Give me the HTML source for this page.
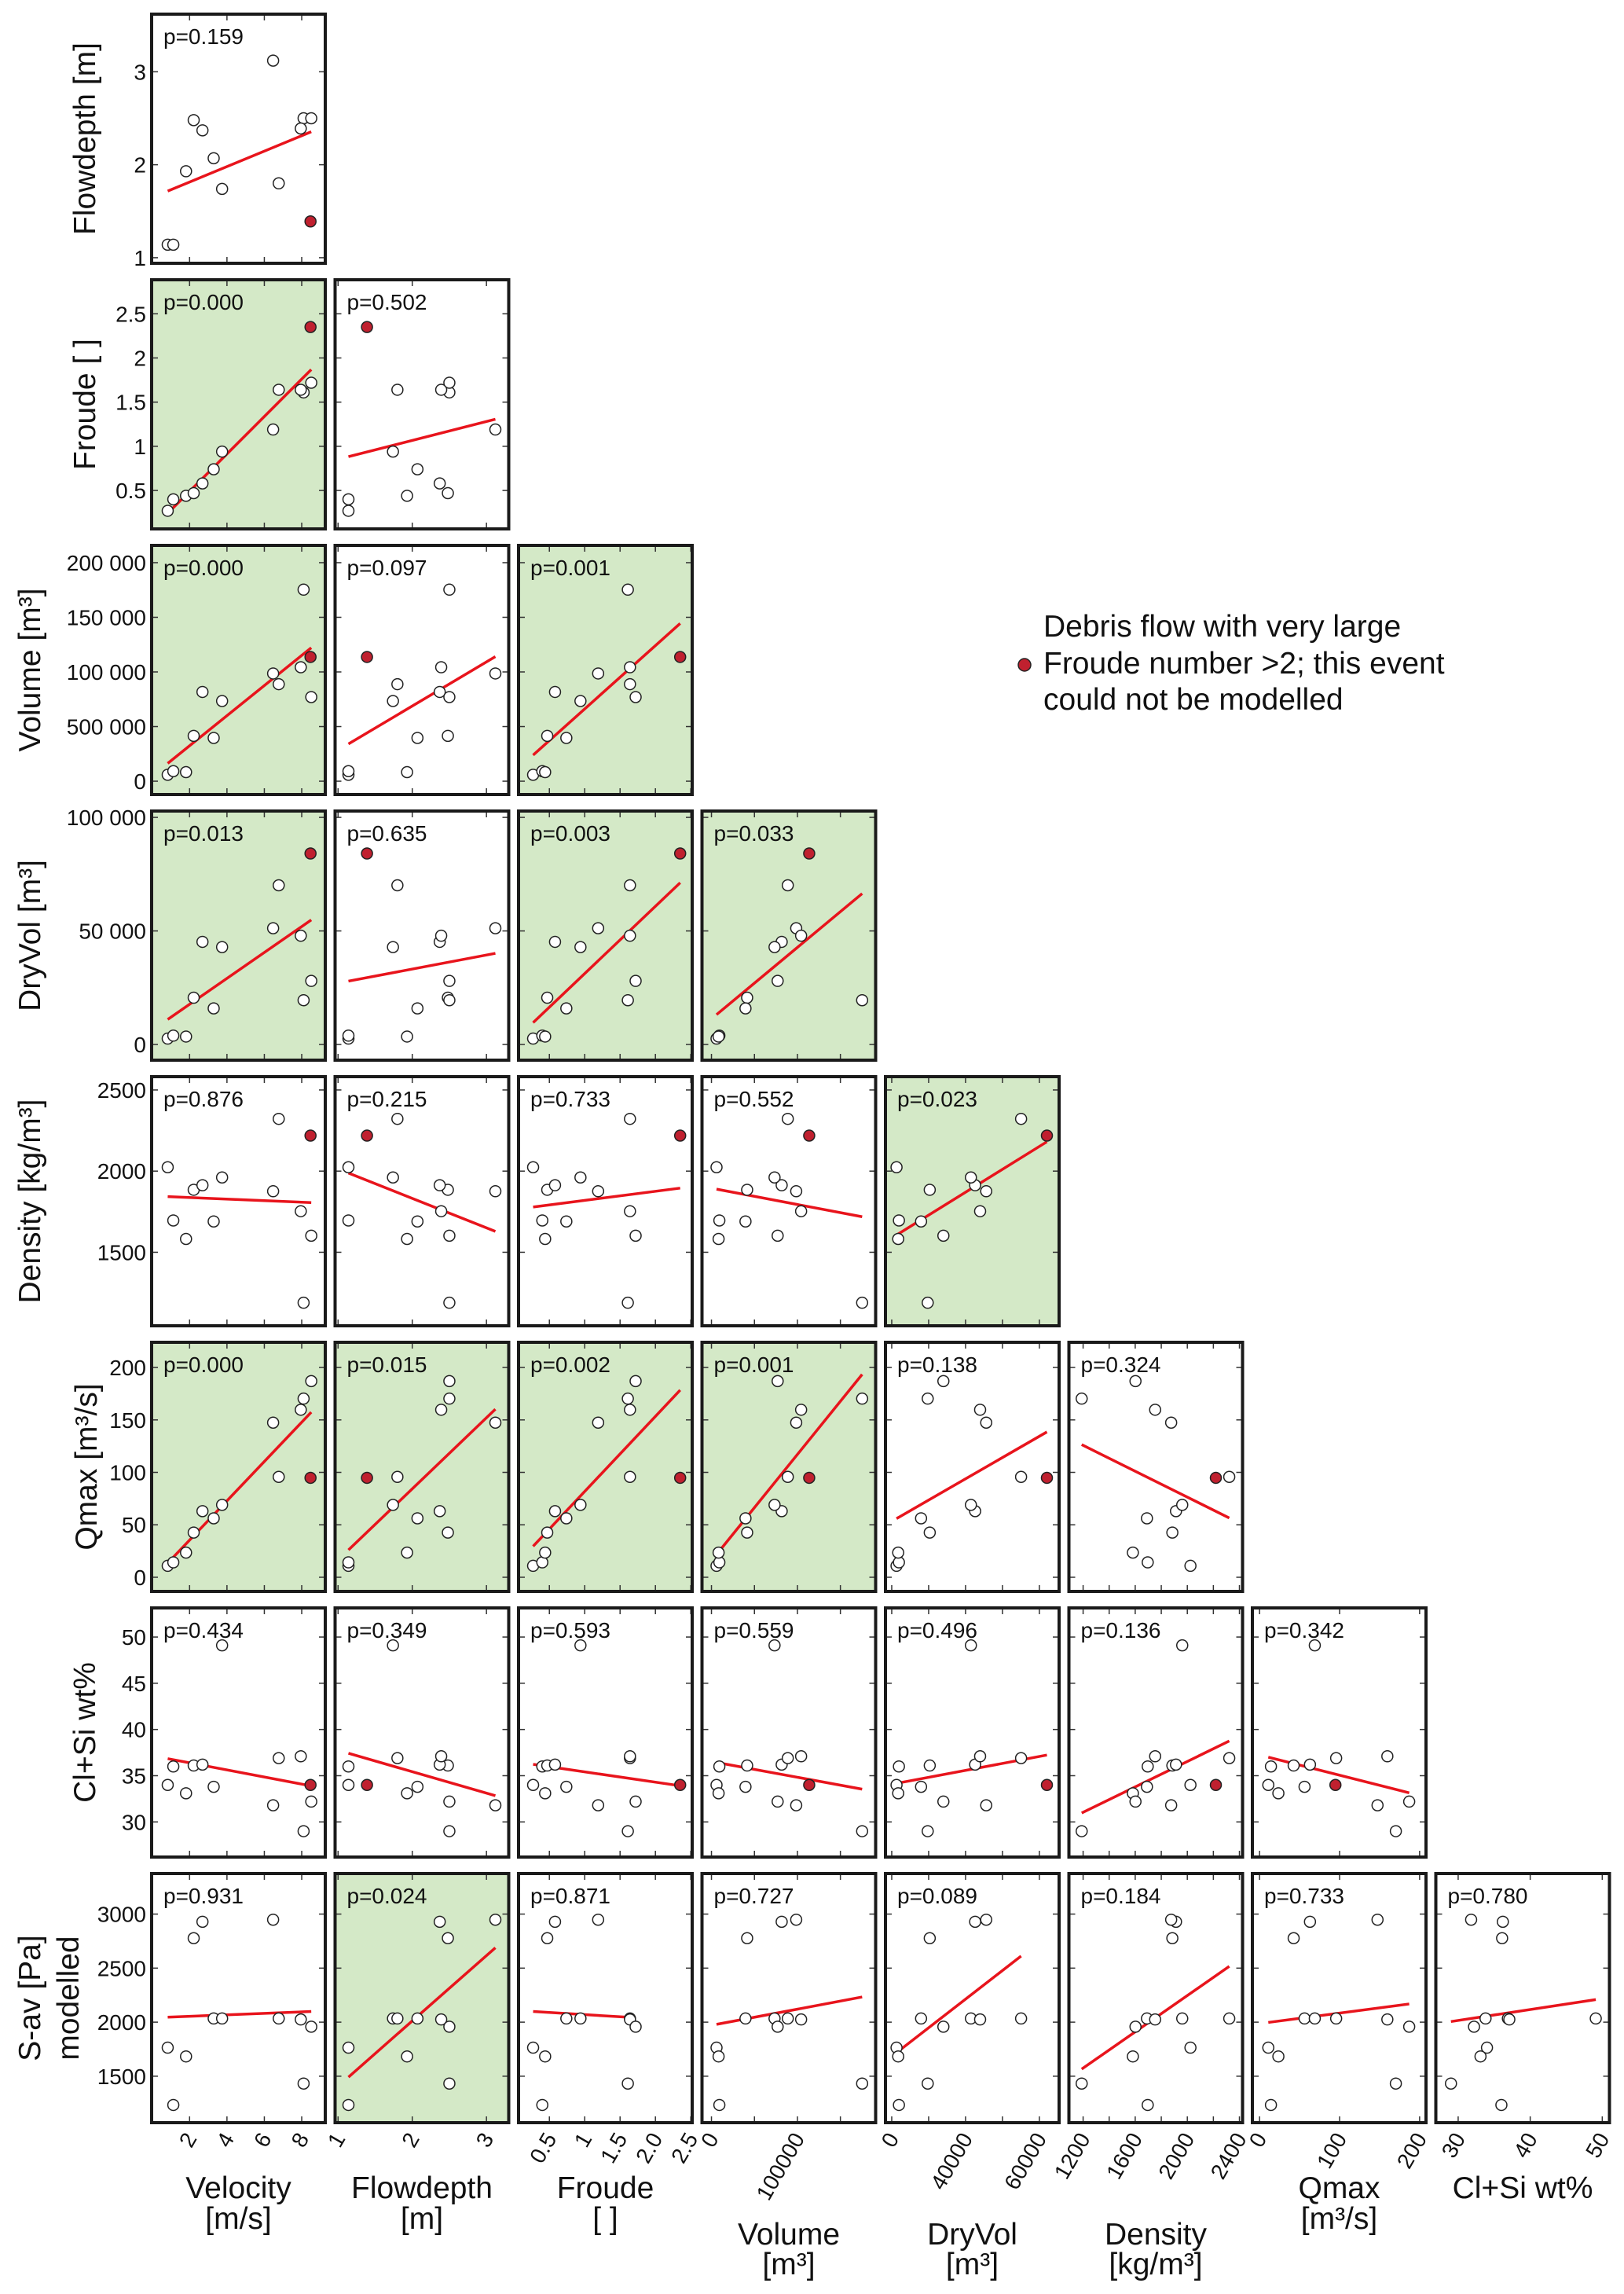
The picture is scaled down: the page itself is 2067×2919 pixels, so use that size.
<!DOCTYPE html>
<html><head><meta charset="utf-8"><title>Scatter matrix</title>
<style>
html,body{margin:0;padding:0;background:#fff;}
svg{display:block;font-family:"Liberation Sans",Arial,sans-serif;}
</style></head>
<body>
<svg id="chart" width="2067" height="2919" viewBox="0 0 2067 2919" xmlns="http://www.w3.org/2000/svg">
<g id="legend">
<circle cx="1304" cy="846" r="8" fill="#c0202f" stroke="#222" stroke-width="1.5"/>
<text x="1328" font-size="39" fill="#111">
<tspan x="1328" y="810">Debris flow with very large</tspan>
<tspan x="1328" y="857">Froude number &gt;2; this event</tspan>
<tspan x="1328" y="903">could not be modelled</tspan>
</text>
</g>
</svg>
<script>
// ---- data (13 events; last one is the red event, not modelled for S-av) ----
const velocity  = [0.83,1.13,1.81,2.22,2.69,3.29,3.74,6.47,6.77,8.10,7.95,8.51,8.47];
const flowdepth = [1.14,1.14,1.93,2.48,2.37,2.07,1.74,3.12,1.80,2.50,2.39,2.50,1.39];
const froude    = [0.27,0.40,0.44,0.47,0.58,0.74,0.94,1.19,1.64,1.61,1.64,1.72,2.35];
const volume    = [5900,9200,8300,41500,81700,39600,73400,98600,88800,175300,104300,77000,113700];
const dryvol    = [2600,3900,3500,20600,45200,15900,42900,51200,70100,19500,47900,28000,84100];
const density   = [2024,1696,1582,1885,1913,1690,1961,1876,2322,1189,1753,1602,2219];
const qmax      = [10.9,14.2,23.5,42.6,63,56.2,69,147.4,95.7,170.3,159.7,187,94.8];
const clsi      = [34.0,36.0,33.1,36.1,36.2,33.8,49.1,31.8,36.9,29.0,37.1,32.2,34.0];
const sav       = [1764,1234,1683,2777,2929,2034,2034,2948,2034,1432,2025,1958,null];
const redEvent  = [false,false,false,false,false,false,false,false,false,false,false,false,true];

const pRow0 = ["0.159"];
const pRow1 = ["0.000","0.502"];
const pRow2 = ["0.000","0.097","0.001"];
const pRow3 = ["0.013","0.635","0.003","0.033"];
const pRow4 = ["0.876","0.215","0.733","0.552","0.023"];
const pRow5 = ["0.000","0.015","0.002","0.001","0.138","0.324"];
const pRow6 = ["0.434","0.349","0.593","0.559","0.496","0.136","0.342"];
const pRow7 = ["0.931","0.024","0.871","0.727","0.089","0.184","0.733","0.780"];
const pValues = [pRow0,pRow1,pRow2,pRow3,pRow4,pRow5,pRow6,pRow7];

const xTickVel = [2,4,6,8];
const xTickFd = [1,2,3];
const xTickFr = [0.5,1,1.5,2,2.5];
const xTickVol = [0,50000,100000,150000];
const xTickDry = [0,20000,40000,60000,80000];
const xTickDen = [1200,1400,1600,1800,2000,2200,2400];
const xTickQ = [0,100,200];
const xTickCl = [30,40,50];
const xLabVel = [[2,"2"],[4,"4"],[6,"6"],[8,"8"]];
const xLabFd = [[1,"1"],[2,"2"],[3,"3"]];
const xLabFr = [[0.5,"0.5"],[1,"1"],[1.5,"1.5"],[2,"2.0"],[2.5,"2.5"]];
const xLabVol = [[0,"0"],[100000,"100000"]];
const xLabDry = [[0,"0"],[40000,"40000"],[80000,"60000"]];
const xLabDen = [[1200,"1200"],[1600,"1600"],[2000,"2000"],[2400,"2400"]];
const xLabQ = [[0,"0"],[100,"100"],[200,"200"]];
const xLabCl = [[30,"30"],[40,"40"],[50,"50"]];

const yTickFd = [1,2,3];
const yTickFr = [0.5,1,1.5,2,2.5];
const yTickVol = [0,50000,100000,150000,200000];
const yTickDry = [0,50000,100000];
const yTickDen = [1500,2000,2500];
const yTickQ = [0,50,100,150,200];
const yTickCl = [30,35,40,45,50];
const yTickSav = [1500,2000,2500,3000];
const yLabFd = ["1","2","3"];
const yLabFr = ["0.5","1","1.5","2","2.5"];
const yLabVol = ["0","500 000","100 000","150 000","200 000"];
const yLabDry = ["0","50 000","100 000"];
const yLabDen = ["1500","2000","2500"];
const yLabQ = ["0","50","100","150","200"];
const yLabCl = ["30","35","40","45","50"];
const yLabSav = ["1500","2000","2500","3000"];

// ---- layout config ----
const NS = "http://www.w3.org/2000/svg";
const svg = document.getElementById('chart');
const PW = 221, PH = 317;
function colLeft(i){ return 193 + 233.5*i; }
function rowTop(j){ return 18 + 338*j; }

const xVars = [
  {d:velocity, r:[-0.03,9.26], t:xTickVel, l:xLabVel, title:["Velocity","[m/s]"], ty:[2797,2836], n:"velocity"},
  {d:flowdepth, r:[0.96,3.30], t:xTickFd, l:xLabFd, title:["Flowdepth","[m]"], ty:[2797,2836], n:"flowdepth"},
  {d:froude, r:[0.064,2.52], t:xTickFr, l:xLabFr, title:["Froude","[ ]"], ty:[2797,2836], n:"froude"},
  {d:volume, r:[-11000,191000], t:xTickVol, l:xLabVol, title:["Volume","[m³]"], ty:[2856,2894], n:"volume"},
  {d:dryvol, r:[-3400,90700], t:xTickDry, l:xLabDry, title:["DryVol","[m³]"], ty:[2856,2894], n:"dryvol"},
  {d:density, r:[1091,2424], t:xTickDen, l:xLabDen, title:["Density","[kg/m³]"], ty:[2856,2894], n:"density"},
  {d:qmax, r:[-9,208], t:xTickQ, l:xLabQ, title:["Qmax","[m³/s]"], ty:[2797,2836], n:"qmax"},
  {d:clsi, r:[26.9,51.0], t:xTickCl, l:xLabCl, title:["Cl+Si wt%"], ty:[2797], n:"clsi"}
];
const yVars = [
  {d:flowdepth, r:[0.94,3.62], t:yTickFd, l:yLabFd, title:["Flowdepth [m]"], tx:[121], n:"flowdepth"},
  {d:froude, r:[0.065,2.885], t:yTickFr, l:yLabFr, title:["Froude [ ]"], tx:[121], n:"froude"},
  {d:volume, r:[-12200,215800], t:yTickVol, l:yLabVol, title:["Volume [m³]"], tx:[51], n:"volume"},
  {d:dryvol, r:[-6900,102800], t:yTickDry, l:yLabDry, title:["DryVol [m³]"], tx:[51], n:"dryvol"},
  {d:density, r:[1047,2582], t:yTickDen, l:yLabDen, title:["Density [kg/m³]"], tx:[51], n:"density"},
  {d:qmax, r:[-13.5,224], t:yTickQ, l:yLabQ, title:["Qmax [m³/s]"], tx:[123], n:"qmax"},
  {d:clsi, r:[26.2,53.15], t:yTickCl, l:yLabCl, title:["Cl+Si wt%"], tx:[121], n:"clsi"},
  {d:sav, r:[1070,3375], t:yTickSav, l:yLabSav, title:["S-av [Pa]","modelled"], tx:[51,100], n:"sav"}
];

function mk(tag, attrs, parent){
  const e = document.createElementNS(NS, tag);
  for (const k in attrs) e.setAttribute(k, attrs[k]);
  (parent||svg).appendChild(e);
  return e;
}

for (let j=0;j<8;j++){
  const yv = yVars[j];
  const T = rowTop(j);
  const sy = v => T + PH - (v - yv.r[0])/(yv.r[1]-yv.r[0])*PH;
  for (let i=0;i<=j;i++){
    const xv = xVars[i];
    const L = colLeft(i);
    const sx = v => L + (v - xv.r[0])/(xv.r[1]-xv.r[0])*PW;
    const p = pValues[j][i];
    const sig = parseFloat(p) < 0.05;
    const g = mk('g', {});
    
    
    const bg = mk('rect', {x:L, y:T, width:PW, height:PH, fill: sig ? '#d4e9c7' : '#ffffff'}, g);
    
    
    // ticks
    xv.t.forEach(v => {
      const x = sx(v);
      const t1 = mk('line', {x1:x, x2:x, y1:T, y2:T+8, stroke:'#333', 'stroke-width':1.5}, g);
      
      
      const t2 = mk('line', {x1:x, x2:x, y1:T+PH-8, y2:T+PH, stroke:'#333', 'stroke-width':1.5}, g);
      
      
    });
    yv.t.forEach(v => {
      const y = sy(v);
      const t1 = mk('line', {x1:L, x2:L+8, y1:y, y2:y, stroke:'#333', 'stroke-width':1.5}, g);
      
      
      const t2 = mk('line', {x1:L+PW-8, x2:L+PW, y1:y, y2:y, stroke:'#333', 'stroke-width':1.5}, g);
      
      
    });
    // regression
    const xs=[], ys=[];
    for (let k=0;k<xv.d.length;k++){
      if (xv.d[k]==null || yv.d[k]==null) continue;
      xs.push(xv.d[k]); ys.push(yv.d[k]);
    }
    const n = xs.length;
    const mx = xs.reduce((a,b)=>a+b,0)/n, my = ys.reduce((a,b)=>a+b,0)/n;
    let sxy=0, sxx=0;
    for (let k=0;k<n;k++){ sxy += (xs[k]-mx)*(ys[k]-my); sxx += (xs[k]-mx)*(xs[k]-mx); }
    const b = sxy/sxx, a = my - b*mx;
    const x0 = Math.min(...xs), x1 = Math.max(...xs);
    const ln = mk('line', {x1:sx(x0), y1:sy(a+b*x0), x2:sx(x1), y2:sy(a+b*x1), stroke:'#e8141c', 'stroke-width':3.5}, g);
    
    
    // points (white first, red on top)
    const order = [];
    for (let k=0;k<xv.d.length;k++) if(!redEvent[k]) order.push(k);
    for (let k=0;k<xv.d.length;k++) if(redEvent[k]) order.push(k);
    order.forEach(k => {
      if (xv.d[k]==null || yv.d[k]==null) return;
      const c = mk('circle', {cx:sx(xv.d[k]), cy:sy(yv.d[k]), r:7, fill: redEvent[k] ? '#c0202f' : '#ffffff', stroke:'#222', 'stroke-width':1.5}, g);
      
      
    });
    // border
    const br = mk('rect', {x:L, y:T, width:PW, height:PH, fill:'none', stroke:'#1a1a1a', 'stroke-width':4}, g);
    
    
    const pt = mk('text', {x:L+15, y:T+38, 'font-size':28, fill:'#111'}, g);
    
    
    pt.textContent = 'p=' + p;
  }
  // y tick labels and title
  yv.t.forEach((v, k) => {
    const t = mk('text', {x:186, y:sy(v)+10, 'font-size':28, 'text-anchor':'end', fill:'#111'});
    
    
    t.textContent = yv.l[k];
  });
  yv.title.forEach((s, k) => {
    const cy = T + PH/2;
    const t = mk('text', {x:0, y:0, 'font-size':39, 'text-anchor':'middle', fill:'#111', transform:'translate('+yv.tx[k]+','+cy+') rotate(-90)'});
    
    
    t.textContent = s;
  });
}

// x tick labels and titles (below bottom row)
const bottom = rowTop(7) + PH;
for (let i=0;i<8;i++){
  const xv = xVars[i];
  const L = colLeft(i);
  const sx = v => L + (v - xv.r[0])/(xv.r[1]-xv.r[0])*PW;
  xv.l.forEach(pair => {
    const x = sx(pair[0]);
    const t = mk('text', {x:0, y:0, 'font-size':28, 'text-anchor':'end', fill:'#111', transform:'translate('+(x+10)+','+(bottom+20)+') rotate(-60)'});
    
    
    t.textContent = pair[1];
  });
  xv.title.forEach((s, k) => {
    const t = mk('text', {x:L+PW/2, y:xv.ty[k], 'font-size':39, 'text-anchor':'middle', fill:'#111'});
    
    
    t.textContent = s;
  });
}
</script>
</body></html>
